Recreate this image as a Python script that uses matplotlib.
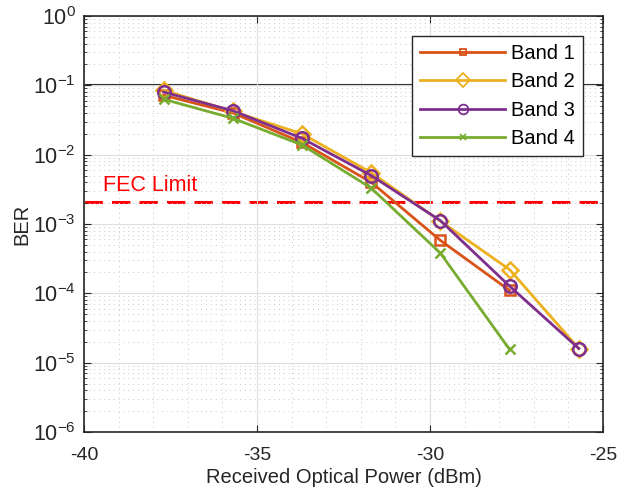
import matplotlib
matplotlib.use("Agg")
from matplotlib import pyplot as plt
import numpy as np

plt.rcParams['font.family'] = ['Liberation Sans', 'DejaVu Sans']
plt.rcParams['mathtext.fontset'] = 'custom'
plt.rcParams['mathtext.rm'] = 'Liberation Sans'
plt.rcParams['mathtext.it'] = 'Liberation Sans'

power = [-37.7, -35.7, -33.7, -31.7, -29.7, -27.7, -25.7]
band1 = [0.072, 0.040, 0.0150, 0.0040, 5.8e-4, 1.1e-4]
band2 = [0.085, 0.042, 0.020, 0.0055, 1.1e-3, 2.2e-4, 1.6e-5]
band3 = [0.080, 0.043, 0.0172, 0.0050, 1.12e-3, 1.27e-4, 1.6e-5]
band4 = [0.063, 0.0335, 0.0138, 0.0033, 3.8e-4, 1.55e-5]
fec_limit = 2.1e-3

fig = plt.figure(figsize=(6.33, 4.95), dpi=100)
ax = fig.add_axes([0.1327, 0.1273, 0.8199, 0.8404])

ax.plot(power[:len(band1)], band1, '-s', color='#D95319', lw=2, ms=7,
        mfc='none', mew=1.8, label='Band 1')
ax.plot(power[:len(band2)], band2, '-D', color='#EDB120', lw=2, ms=8,
        mfc='none', mew=1.8, label='Band 2')
ax.plot(power[:len(band3)], band3, '-o', color='#7E2F8E', lw=2, ms=9,
        mfc='none', mew=1.8, label='Band 3')
ax.plot(power[:len(band4)], band4, '-x', color='#77AC30', lw=2, ms=7,
        mew=1.8, label='Band 4')

ax.axhline(0.1, color='#262626', lw=1.5, zorder=1)
ax.axhline(fec_limit, color='red', lw=2.2, ls=(0, (6, 3)), zorder=1)
ax.text(-39.45, 2.95e-3, 'FEC Limit', color='red', fontsize=15.5)

ax.set_yscale('log')
ax.set_xlim(-40, -25)
ax.set_ylim(1e-6, 1)
ax.set_xticks([-40, -35, -30, -25])
ax.set_xticklabels(['-40', '-35', '-30', '-25'])
ax.set_yticks([10.0**k for k in range(-6, 1)])
ax.set_yticklabels([r'$\mathregular{10^{%d}}$' % k for k in range(-6, 1)])

ax.grid(True, which='major', color='#dedede', lw=0.8, zorder=0)
ax.grid(True, which='minor', color='#c8c8c8', lw=0.7, ls=(0, (1, 4)), zorder=0)
ax.set_xticks(np.arange(-40, -25, 1.0), minor=True)
ax.tick_params(which='both', direction='in', top=True, right=True,
               color='#262626', labelcolor='#262626')
ax.tick_params(axis='x', which='major', labelsize=14, pad=11)
ax.tick_params(axis='y', which='major', labelsize=15.5, pad=6)
ax.tick_params(which='major', length=5)
ax.tick_params(which='minor', length=2.5)
ax.tick_params(axis='x', which='minor', length=0)
for s in ax.spines.values():
    s.set_color('#262626')
    s.set_linewidth(1.2)

ax.set_xlabel('Received Optical Power (dBm)', fontsize=14.5, color='#262626',
              labelpad=3)
ax.set_ylabel('BER', fontsize=14.5, color='#262626', labelpad=1)

leg = ax.legend(loc='upper right', bbox_to_anchor=(0.9615, 0.952),
                borderaxespad=0, fontsize=14.5, fancybox=False,
                edgecolor='#262626', framealpha=1, handlelength=4.2,
                handletextpad=0.3, borderpad=0.4, labelspacing=0.47)
leg.get_frame().set_linewidth(1)
for h, m in zip(leg.legend_handles, [5, 7, 7, 5]):
    h.set_markersize(m)
    h.set_markeredgewidth(1.3)

fig.savefig('out.png', dpi=100)
